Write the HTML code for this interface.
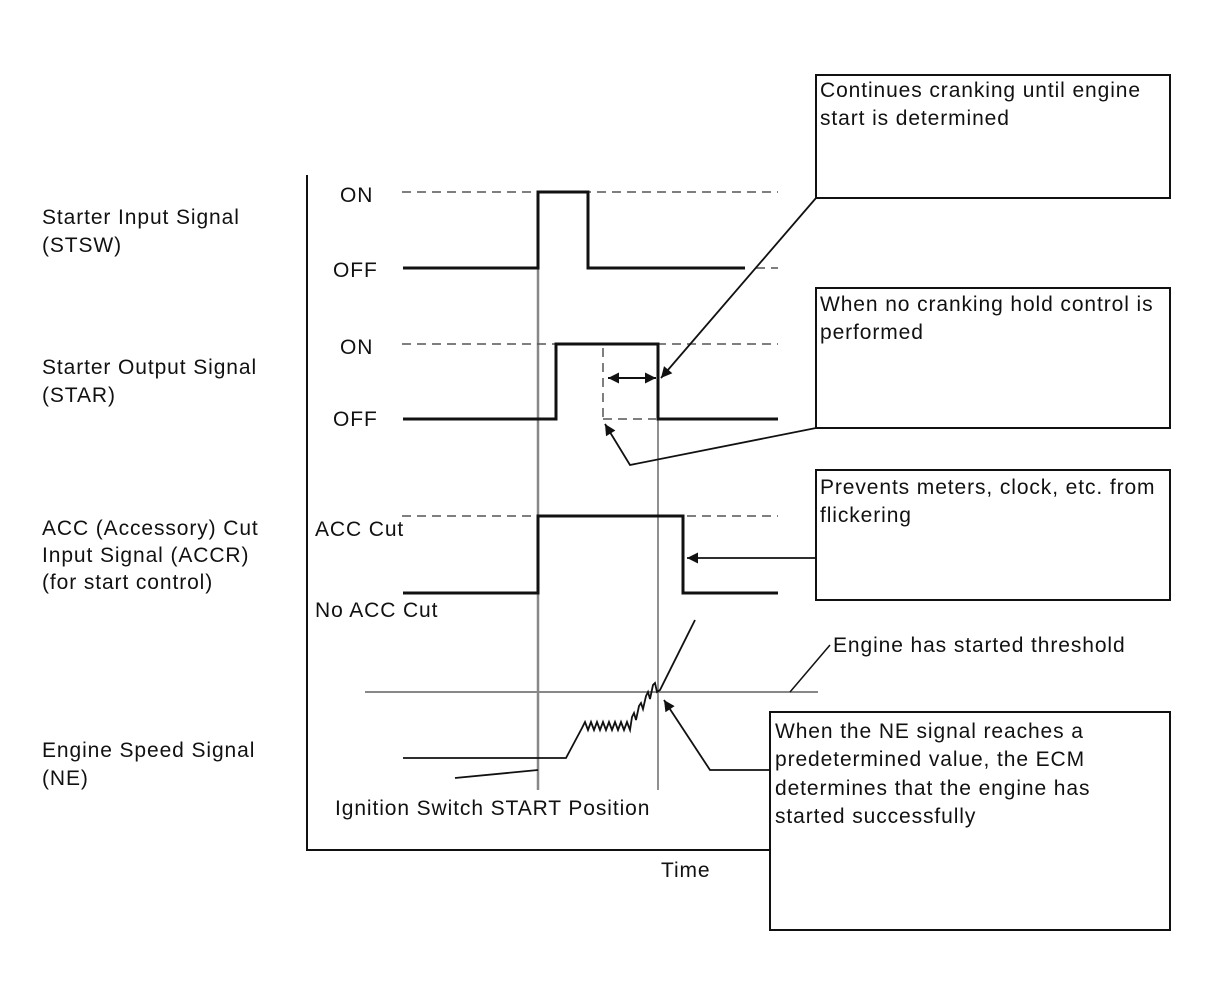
<!DOCTYPE html>
<html><head><meta charset="utf-8"><style>
html,body{margin:0;padding:0;background:#fff}
svg{display:block}
text{font-family:"Liberation Sans",sans-serif;font-size:21px;letter-spacing:0.9px;fill:#111}
</style></head><body>
<svg width="1208" height="984" viewBox="0 0 1208 984" xmlns="http://www.w3.org/2000/svg">
<defs>
<marker id="ah2" viewBox="0 0 10 10" refX="10" refY="5" markerWidth="22" markerHeight="11" orient="auto-start-reverse" markerUnits="userSpaceOnUse"><path d="M0,0L10,5L0,10z" fill="#111"/></marker>
</defs>
<g fill="none" stroke="#111">
<polyline points="307,175 307,850 770,850" stroke-width="2"/>
<line x1="538" y1="192" x2="538" y2="790" stroke="#888" stroke-width="2.5"/>
<line x1="658" y1="344" x2="658" y2="790" stroke="#555" stroke-width="1.3"/>
<g stroke="#555" stroke-width="1.5" stroke-dasharray="9,6">
<line x1="402" y1="192" x2="778" y2="192"/>
<line x1="402" y1="344" x2="778" y2="344"/>
<line x1="402" y1="516" x2="778" y2="516"/>
<line x1="756" y1="268" x2="778" y2="268"/>
<line x1="603" y1="348" x2="603" y2="419"/>
<line x1="603" y1="419" x2="656" y2="419"/>
</g>
<polyline points="403,268 538,268 538,192 588,192 588,268 745,268" stroke-width="3"/>
<polyline points="403,419 556,419 556,344 658,344 658,419 778,419" stroke-width="3"/>
<polyline points="403,593 538,593 538,516 683,516 683,593 778,593" stroke-width="3"/>
<line x1="365" y1="692" x2="818" y2="692" stroke="#888" stroke-width="2"/>
<line x1="790" y1="692" x2="830" y2="645" stroke-width="1.5"/>
<polyline points="403,758 566,758 582,728 585,722 588,730 591,722 594,730 597,722 600,730 603,722 606,730 609,722 612,730 615,722 618,730 621,722 624,730 627,722 630,730 632,717 634,713 636,720 639,706 641,703 643,709 646,696 648,692 650,699 653,685 655,683 657,692 660,690 695,620" stroke-width="1.8"/>
<line x1="608" y1="378" x2="656" y2="378" stroke-width="2" marker-start="url(#ah2)" marker-end="url(#ah2)"/>
<line x1="816" y1="198" x2="661" y2="378" stroke-width="1.8" marker-end="url(#ah2)"/>
<polyline points="816,428 630,465 605,424" stroke-width="1.8" marker-end="url(#ah2)"/>
<line x1="816" y1="558" x2="687" y2="558" stroke-width="1.8" marker-end="url(#ah2)"/>
<polyline points="770,770 710,770 664,700" stroke-width="1.8" marker-end="url(#ah2)"/>
<line x1="455" y1="778" x2="538" y2="770" stroke-width="1.8"/>
<g stroke-width="2">
<rect x="816" y="75" width="354" height="123"/>
<rect x="816" y="288" width="354" height="140"/>
<rect x="816" y="470" width="354" height="130"/>
<rect x="770" y="712" width="400" height="218" fill="#fff"/>
</g>
</g>
<text x="42" y="224">Starter Input Signal</text>
<text x="42" y="252">(STSW)</text>
<text x="42" y="374">Starter Output Signal</text>
<text x="42" y="402">(STAR)</text>
<text x="42" y="535">ACC (Accessory) Cut</text>
<text x="42" y="562">Input Signal (ACCR)</text>
<text x="42" y="589">(for start control)</text>
<text x="42" y="757">Engine Speed Signal</text>
<text x="42" y="785">(NE)</text>
<text x="340" y="202">ON</text>
<text x="333" y="277">OFF</text>
<text x="340" y="354">ON</text>
<text x="333" y="426">OFF</text>
<text x="315" y="536">ACC Cut</text>
<text x="315" y="617">No ACC Cut</text>
<text x="335" y="815">Ignition Switch START Position</text>
<text x="661" y="877">Time</text>
<text x="833" y="652">Engine has started threshold</text>
<text x="820" y="97">Continues cranking until engine</text>
<text x="820" y="125">start is determined</text>
<text x="820" y="311">When no cranking hold control is</text>
<text x="820" y="339">performed</text>
<text x="820" y="494">Prevents meters, clock, etc. from</text>
<text x="820" y="522">flickering</text>
<text x="775" y="738">When the NE signal reaches a</text>
<text x="775" y="766">predetermined value, the ECM</text>
<text x="775" y="795">determines that the engine has</text>
<text x="775" y="823">started successfully</text>
</svg>
</body></html>
